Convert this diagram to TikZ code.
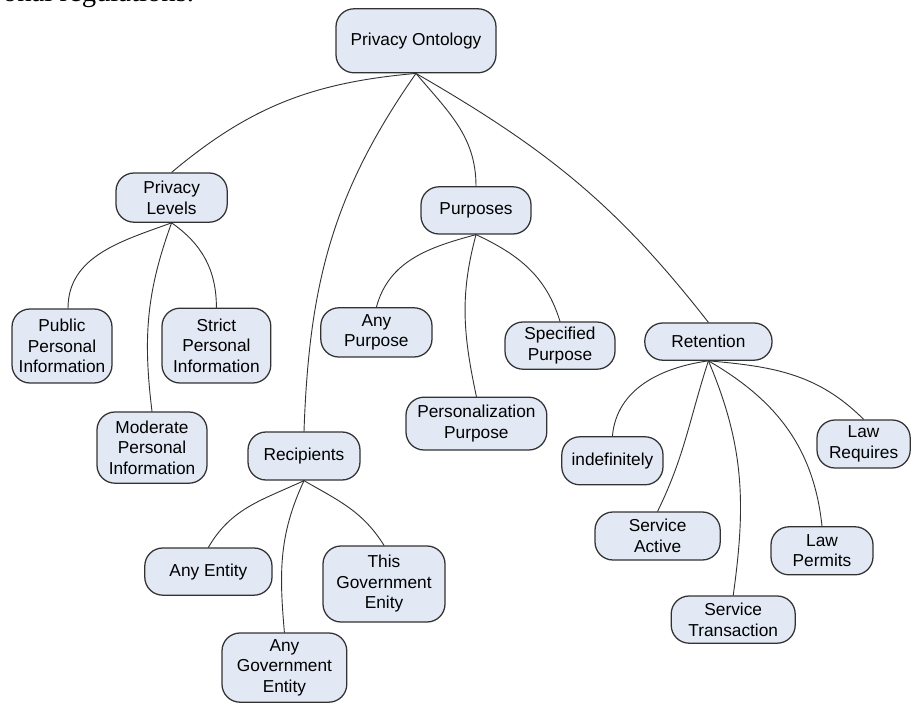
\documentclass[tikz,border=0pt]{standalone}
\usepackage{fontspec}
\setmainfont{Liberation Serif}
\setsansfont{Liberation Sans}
\usepackage{tikz}

\definecolor{boxfill}{RGB}{226,233,245}
\definecolor{boxline}{RGB}{50,50,50}

\begin{document}
\begin{tikzpicture}[line cap=round,line join=round,x=1.0cm,y=1.0cm,
    topic/.style={draw=boxline,line width=0.9pt,fill=boxfill,rounded corners=0.45cm,
        align=center,inner sep=0pt,font=\sffamily\fontsize{12.3}{14.6}\selectfont},
    link/.style={draw=black!80,line width=0.65pt}]
        \useasboundingbox (0,0) rectangle (22.775,17.6);
        \clip(0,0) rectangle (22.775,17.6);
        \draw (-0.05,17.56) node[anchor=base west,font=\fontsize{20.4}{24}\selectfont] (caption) {onal regulations.};
        % root
        \draw (10.4,16.58) node[topic,minimum width=4cm,minimum height=1.6cm] (onto) {Privacy Ontology};
        % privacy levels
        \draw (4.29,12.66) node[topic,minimum width=2.78cm,minimum height=1.23cm] (levels) {Privacy\\Levels};
        \draw (1.55,8.95) node[topic,minimum width=2.5cm,minimum height=1.85cm] (public) {Public\\Personal\\Information};
        \draw (5.41,8.96) node[topic,minimum width=2.72cm,minimum height=1.87cm] (strict) {Strict\\Personal\\Information};
        \draw (3.8,6.41) node[topic,minimum width=2.75cm,minimum height=1.78cm] (moderate) {Moderate\\Personal\\Information};
        % recipients
        \draw (7.6,6.2) node[topic,minimum width=2.8cm,minimum height=1.2cm] (recip) {Recipients};
        \draw (5.21,3.31) node[topic,minimum width=3.18cm,minimum height=1.18cm] (anyent) {Any Entity};
        \draw (9.6,3.0) node[topic,minimum width=3.05cm,minimum height=1.9cm] (thisgov) {This\\Government\\Enity};
        \draw (7.11,0.91) node[topic,minimum width=3.12cm,minimum height=1.73cm] (anygov) {Any\\Government\\Entity};
        % purposes
        \draw (11.9,12.34) node[topic,minimum width=2.75cm,minimum height=1.18cm] (purp) {Purposes};
        \draw (9.41,9.29) node[topic,minimum width=2.78cm,minimum height=1.23cm] (anypurp) {Any\\Purpose};
        \draw (14.0,8.96) node[topic,minimum width=2.75cm,minimum height=1.18cm] (specpurp) {Specified\\Purpose};
        \draw (11.91,7.01) node[topic,minimum width=3.52cm,minimum height=1.32cm] (perspurp) {Personalization\\Purpose};
        % retention
        \draw (17.71,9.06) node[topic,minimum width=3.18cm,minimum height=0.93cm] (reten) {Retention};
        \draw (15.31,6.08) node[topic,minimum width=2.53cm,minimum height=1.2cm] (indef) {indefinitely};
        \draw (16.44,4.2) node[topic,minimum width=3.13cm,minimum height=1.2cm] (servact) {Service\\Active};
        \draw (18.33,2.11) node[topic,minimum width=3.1cm,minimum height=1.18cm] (servtrans) {Service\\Transaction};
        \draw (20.55,3.83) node[topic,minimum width=2.55cm,minimum height=1.2cm] (lawperm) {Law\\Permits};
        \draw (21.59,6.5) node[topic,minimum width=2.33cm,minimum height=1.2cm] (lawreq) {Law\\Requires};
        % links
        \draw [link] (onto.south) to[out=185,in=40] (levels.north);
        \draw [link] (onto.south) to[out=235,in=88] (recip.north);
        \draw [link] (onto.south) to[out=-50,in=90] (purp.north);
        \draw [link] (onto.south) to[out=-30,in=128] (reten.north);
        \draw [link] (levels.south) to[out=200,in=90] ([xshift=0.15cm]public.north);
        \draw [link] (levels.south) to[out=-35,in=90] (strict.north);
        \draw [link] (levels.south) to[out=250,in=97] (moderate.north);
        \draw [link] (recip.south) to[out=205,in=60] (anyent.north);
        \draw [link] (recip.south) to[out=-30,in=122] (thisgov.north);
        \draw [link] (recip.south) to[out=245,in=95] (anygov.north);
        \draw [link] (purp.south) to[out=195,in=75] (anypurp.north);
        \draw [link] (purp.south) to[out=-25,in=107] (specpurp.north);
        \draw [link] (purp.south) to[out=255,in=102] (perspurp.north);
        \draw [link] (reten.south) to[out=188,in=85] (indef.north);
        \draw [link] (reten.south) to[out=252,in=64] (servact.north);
        \draw [link] (reten.south) to[out=-67,in=82] (servtrans.north);
        \draw [link] (reten.south) to[out=-30,in=96] (lawperm.north);
        \draw [link] (reten.south) to[out=-5,in=135] (lawreq.north);
\end{tikzpicture}
\end{document}
